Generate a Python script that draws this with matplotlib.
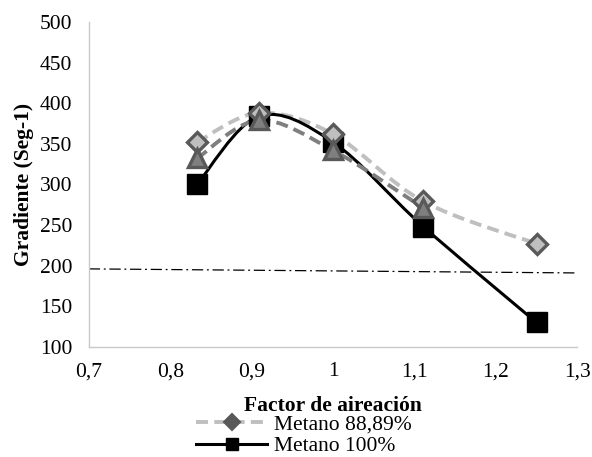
import matplotlib
matplotlib.use("Agg")
import matplotlib.pyplot as plt
import numpy as np
from matplotlib.path import Path
from matplotlib.patches import PathPatch
from matplotlib.lines import Line2D

plt.rcParams['font.family'] = ['Liberation Serif', 'DejaVu Serif']

# data
factor = [0.833, 0.909, 1.0, 1.111, 1.25]
metano_8889 = [352, 388, 362, 279, 227]
metano_mid = [332, 379, 342, 271]
metano_100 = [300, 384, 352, 248, 130]
ref_x = [0.7, 1.3]
ref_y = [196, 191]

x_ticks = [0.7, 0.8, 0.9, 1.0, 1.1, 1.2, 1.3]
x_labels = ["0,7", "0,8", "0,9", "1", "1,1", "1,2", "1,3"]
y_ticks = [100, 150, 200, 250, 300, 350, 400, 450, 500]


def smooth_path(xs, ys):
    # Excel-like smoothed line: Catmull-Rom as cubic Bezier segments
    pts = np.column_stack([xs, ys]).astype(float)
    n = len(pts)
    verts = [pts[0]]
    codes = [Path.MOVETO]
    for i in range(n - 1):
        p0 = pts[i - 1] if i > 0 else pts[i]
        p1 = pts[i]
        p2 = pts[i + 1]
        p3 = pts[i + 2] if i + 2 < n else pts[i + 1]
        c1 = p1 + (p2 - p0) / 6.0
        c2 = p2 - (p3 - p1) / 6.0
        verts += [c1, c2, p2]
        codes += [Path.CURVE4] * 3
    return Path(verts, codes)


fig = plt.figure(figsize=(5.92, 4.57), dpi=100)
ax = fig.add_axes([0.150, 0.241, 0.825, 0.711])

light = "#BFBFBF"
mid = "#7F7F7F"
dark = "#595959"
fs = 15.5

ax.plot(ref_x, ref_y, color="black", lw=0.9, linestyle=(0, (9, 3, 1.5, 3)), zorder=1)

ax.add_patch(PathPatch(smooth_path(factor, metano_8889), fill=False, ec=light,
                       lw=2.8, linestyle=(0, (3.1, 1.6)), zorder=2))
ax.add_patch(PathPatch(smooth_path(factor, metano_100), fill=False, ec="black",
                       lw=2.2, zorder=2.5))
ax.add_patch(PathPatch(smooth_path(factor[:4], metano_mid), fill=False, ec=mid,
                       lw=2.8, linestyle=(0, (3.1, 1.6)), zorder=3))

ax.plot(factor, metano_100, linestyle="none", marker="s", ms=14,
        mfc="black", mec="black", zorder=4)
ax.plot(factor, metano_8889, linestyle="none", marker="D", ms=10.5,
        mfc=light, mec=dark, mew=2.4, zorder=5)
ax.plot(factor[:4], metano_mid, linestyle="none", marker="^", ms=12.5,
        mfc=mid, mec=dark, mew=2.4, zorder=6)

ax.set_xlim(0.7, 1.3)
ax.set_ylim(100, 500)
ax.set_xticks(x_ticks)
ax.set_xticklabels(x_labels)
ax.set_yticks(y_ticks)
ax.tick_params(axis="y", length=0, labelsize=fs, pad=12)
ax.tick_params(axis="x", length=0, labelsize=fs, pad=11)
for s in ["top", "right"]:
    ax.spines[s].set_visible(False)
for s in ["left", "bottom"]:
    ax.spines[s].set_color("#C8C8C8")
    ax.spines[s].set_linewidth(1.0)

ax.set_xlabel("Factor de aireación", fontsize=fs, fontweight="bold", labelpad=11)
ax.set_ylabel("Gradiente (Seg-1)", fontsize=fs, fontweight="bold", labelpad=4)

handles = [
    Line2D([], [], color=light, lw=2.8, linestyle=(0, (3.1, 1.6)), marker="D",
           ms=8, mfc=dark, mec=dark, mew=1.5),
    Line2D([], [], color="black", lw=2.2, marker="s", ms=9, mfc="black", mec="black"),
]
fig.legend(handles, ["Metano 88,89%", "Metano 100%"], loc="upper center",
           bbox_to_anchor=(0.513, 0.092), frameon=False, fontsize=fs,
           handlelength=3.3, handletextpad=0.3, labelspacing=0.06,
           borderpad=0, borderaxespad=0)

fig.savefig("out.png", dpi=100)
